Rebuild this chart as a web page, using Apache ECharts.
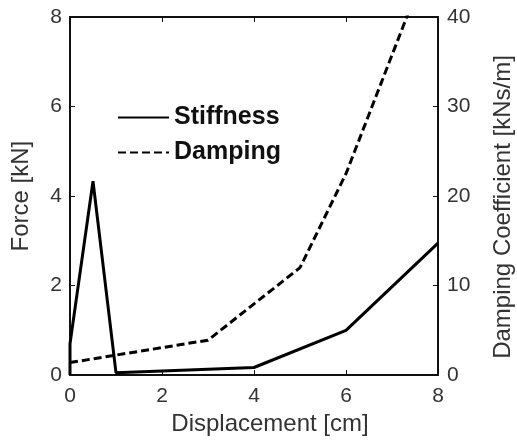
<!DOCTYPE html>
<html>
<head>
<meta charset="utf-8">
<script src="https://cdn.jsdelivr.net/npm/echarts@6/dist/echarts.min.js"></script>
<style>
  html, body { margin: 0; padding: 0; background: #fff; }
  #chart { width: 517px; height: 441px; }
</style>
</head>
<body>
<div id="chart"></div>
<script>
// displacement [cm] vs force [kN]
const stiffnessX = [0, 0, 0.5, 1, 4, 6, 8]
const stiffnessY = [0, 0.7, 4.33, 0.05, 0.17, 1.0, 2.95]
// displacement [cm] vs damping coefficient [kNs/m]
const dampingX = [0, 3, 5, 6, 8]
const dampingY = [1.4, 3.9, 12.0, 22.5, 49]

const seriesNames = ['Stiffness', 'Damping']

const font = 'Liberation Sans, Arial, sans-serif'
const labelColor = '#333'

const toPairs = (xs, ys) => xs.map((x, i) => [x, ys[i]])

const chart = echarts.init(document.getElementById('chart'))

const axisLine = { show: true, onZero: false, lineStyle: { color: '#111', width: 2 } }
const axisTick = { inside: true, length: 5, lineStyle: { color: '#111', width: 1 } }
const axisLabel = { color: labelColor, fontFamily: font, fontSize: 21 }

chart.setOption({
  animation: false,
  grid: { left: 70, right: 79, top: 17, bottom: 58 },
  legend: {
    orient: 'vertical',
    left: 112,
    top: 100,
    itemWidth: 51,
    itemHeight: 14,
    itemGap: 10,
    data: seriesNames,
    itemStyle: { opacity: 0 },
    textStyle: { color: '#111', fontFamily: font, fontSize: 25, fontWeight: 'bold' },
  },
  // right axis title, placed by hand so it sits a little below centre like the original
  graphic: [
    {
      type: 'text',
      x: 503,
      y: 207,
      rotation: Math.PI / 2,
      style: {
        text: 'Damping Coefficient [kNs/m]',
        fill: labelColor,
        font: '24px ' + font,
        align: 'center',
        verticalAlign: 'middle',
      },
    },
  ],
  xAxis: [
    {
      type: 'value',
      min: 0,
      max: 8,
      interval: 2,
      name: 'Displacement [cm]',
      nameLocation: 'middle',
      nameGap: 29,
      nameTextStyle: { color: labelColor, fontFamily: font, fontSize: 24, padding: [0, 0, 0, 32] },
      axisLine,
      axisTick,
      axisLabel: { ...axisLabel, margin: 11 },
      splitLine: { show: false },
    },
    {
      type: 'value',
      position: 'top',
      min: 0,
      max: 8,
      interval: 2,
      axisLine,
      axisTick,
      axisLabel: { show: false },
      splitLine: { show: false },
    },
  ],
  yAxis: [
    {
      type: 'value',
      min: 0,
      max: 8,
      interval: 2,
      name: 'Force [kN]',
      nameLocation: 'middle',
      nameRotate: 90,
      nameGap: 37,
      nameTextStyle: { color: labelColor, fontFamily: font, fontSize: 24 },
      axisLine,
      axisTick,
      axisLabel: { ...axisLabel, margin: 8 },
      splitLine: { show: false },
    },
    {
      type: 'value',
      position: 'right',
      min: 0,
      max: 40,
      interval: 10,
      axisLine,
      axisTick,
      axisLabel: { ...axisLabel, margin: 9 },
      splitLine: { show: false },
    },
  ],
  series: [
    {
      name: seriesNames[0],
      type: 'line',
      xAxisIndex: 0,
      yAxisIndex: 0,
      data: toPairs(stiffnessX, stiffnessY),
      symbol: 'none',
      lineStyle: { color: '#000', width: 3 },
      itemStyle: { color: '#000' },
      clip: true,
    },
    {
      name: seriesNames[1],
      type: 'line',
      xAxisIndex: 0,
      yAxisIndex: 1,
      data: toPairs(dampingX, dampingY),
      symbol: 'none',
      lineStyle: { color: '#000', width: 3, type: [8, 4] },
      itemStyle: { color: '#000' },
      clip: true,
    },
  ],
})
</script>
</body>
</html>
